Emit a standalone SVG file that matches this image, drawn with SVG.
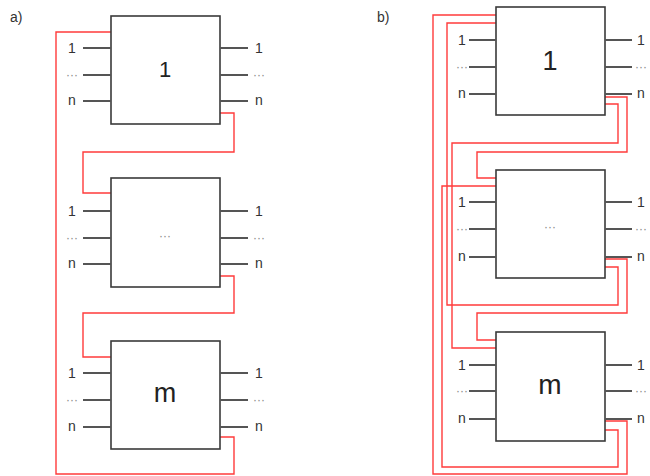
<svg xmlns="http://www.w3.org/2000/svg" width="650" height="476" viewBox="0 0 650 476">
<style>
.box{fill:#fff;stroke:#3a3a3a;stroke-width:1.6}
.pin{stroke:#555;stroke-width:2}
.red{fill:none;stroke:#ff3b3b;stroke-width:1.4}
.lbl{font-family:"Liberation Sans",Arial,sans-serif;font-size:14px;fill:#333;text-anchor:middle}
.dots{font-family:"Liberation Sans",Arial,sans-serif;font-size:12px;fill:#888;text-anchor:middle}
.big{font-family:"Liberation Sans",Arial,sans-serif;fill:#222;text-anchor:middle}
.hdr{font-family:"Liberation Sans",Arial,sans-serif;font-size:14px;fill:#333}
</style>
<rect width="650" height="476" fill="#fff"/>
<text class="hdr" x="10" y="22">a)</text>
<text class="hdr" x="377" y="22">b)</text>

<g id="connectors">
<path class="red" d="M111,32 H56 V474 H234 V437 H220"/>
<path class="red" d="M220,113 H234 V152 H83 V193 H111"/>
<path class="red" d="M220,276 H234 V313 H83 V357 H111"/>
<path class="red" d="M496,15 H433 V474 H627 V421 H605"/>
<path class="red" d="M496,23 H447 V305 H618 V267 H605"/>
<path class="red" d="M605,97 H627 V152 H477 V178 H496"/>
<path class="red" d="M605,104 H618 V143 H452 V348 H496"/>
<path class="red" d="M605,259 H627 V313 H477 V340 H496"/>
<path class="red" d="M605,430 H618 V467 H442 V186 H496"/>
</g>

<g id="a-box1">
<rect class="box" x="111" y="16" width="109" height="108"/>
<path class="pin" d="M83,48 H111 M83,75 H111 M83,101 H111 M220,48 H248 M220,75 H248 M220,101 H248"/>
<text class="lbl" x="72" y="53">1</text><text class="dots" x="72" y="79">···</text><text class="lbl" x="72" y="105">n</text>
<text class="lbl" x="259" y="53">1</text><text class="dots" x="259" y="79">···</text><text class="lbl" x="259" y="105">n</text>
<text class="big" x="165" y="77" font-size="22">1</text>
</g>
<g id="a-boxmid">
<rect class="box" x="111" y="178" width="109" height="109"/>
<path class="pin" d="M83,211 H111 M83,238 H111 M83,264 H111 M220,211 H248 M220,238 H248 M220,264 H248"/>
<text class="lbl" x="72" y="216">1</text><text class="dots" x="72" y="242">···</text><text class="lbl" x="72" y="268">n</text>
<text class="lbl" x="259" y="216">1</text><text class="dots" x="259" y="242">···</text><text class="lbl" x="259" y="268">n</text>
<text class="dots" x="165" y="240">···</text>
</g>
<g id="a-boxm">
<rect class="box" x="111" y="341" width="109" height="108"/>
<path class="pin" d="M83,373 H111 M83,400 H111 M83,427 H111 M220,373 H248 M220,400 H248 M220,427 H248"/>
<text class="lbl" x="72" y="378">1</text><text class="dots" x="72" y="404">···</text><text class="lbl" x="72" y="431">n</text>
<text class="lbl" x="259" y="378">1</text><text class="dots" x="259" y="404">···</text><text class="lbl" x="259" y="431">n</text>
<text class="big" x="165" y="402" font-size="27">m</text>
</g>

<g id="b-box1">
<rect class="box" x="496" y="7" width="109" height="108"/>
<path class="pin" d="M469,40 H496 M469,67 H496 M469,94 H496 M605,40 H632 M605,67 H632 M605,94 H632"/>
<text class="lbl" x="462" y="45">1</text><text class="dots" x="462" y="71">···</text><text class="lbl" x="462" y="98">n</text>
<text class="lbl" x="641" y="45">1</text><text class="dots" x="641" y="71">···</text><text class="lbl" x="641" y="98">n</text>
<text class="big" x="550" y="70" font-size="27">1</text>
</g>
<g id="b-boxmid">
<rect class="box" x="496" y="170" width="109" height="108"/>
<path class="pin" d="M469,202 H496 M469,229 H496 M469,257 H496 M605,202 H632 M605,229 H632 M605,257 H632"/>
<text class="lbl" x="462" y="207">1</text><text class="dots" x="462" y="233">···</text><text class="lbl" x="462" y="261">n</text>
<text class="lbl" x="641" y="207">1</text><text class="dots" x="641" y="233">···</text><text class="lbl" x="641" y="261">n</text>
<text class="dots" x="550" y="231">···</text>
</g>
<g id="b-boxm">
<rect class="box" x="496" y="332" width="109" height="109"/>
<path class="pin" d="M469,365 H496 M469,391 H496 M469,419 H496 M605,365 H632 M605,391 H632 M605,419 H632"/>
<text class="lbl" x="462" y="370">1</text><text class="dots" x="462" y="395">···</text><text class="lbl" x="462" y="423">n</text>
<text class="lbl" x="641" y="370">1</text><text class="dots" x="641" y="395">···</text><text class="lbl" x="641" y="423">n</text>
<text class="big" x="550" y="394" font-size="28">m</text>
</g>
</svg>
